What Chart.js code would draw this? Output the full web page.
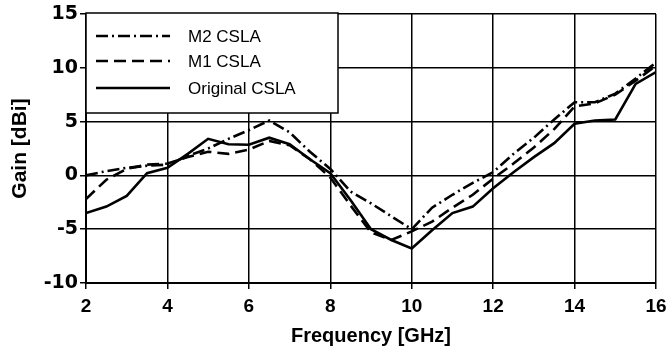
<!DOCTYPE html>
<html>
<head>
<meta charset="utf-8">
<script src="https://cdn.jsdelivr.net/npm/chart.js@4/dist/chart.umd.min.js"></script>
<style>
html,body{margin:0;padding:0;background:#fff;}
#c{display:block;}
</style>
</head>
<body>
<canvas id="c" width="668" height="353"></canvas>
<script>
// ---- data ----
const freqGHz = [2,2.5,3,3.5,4,4.5,5,5.5,6,6.5,7,7.5,8,8.5,9,9.5,10,10.5,11,11.5,12,12.5,13,13.5,14,14.5,15,15.5,16];
const gainM2 = [0,0.4,0.7,0.9,1.0,1.8,2.5,3.4,4.2,5.1,4.0,2.2,0.6,-1.5,-2.6,-3.8,-5.0,-3.0,-1.8,-0.7,0.3,2.0,3.5,5.2,6.8,6.8,7.6,9.0,10.5];
const gainM1 = [-2.2,-0.4,0.6,1.0,1.1,1.7,2.2,2.0,2.4,3.2,2.8,1.5,-0.2,-2.8,-5.3,-6.0,-5.2,-4.3,-3.0,-1.8,-0.3,1.1,2.6,4.3,6.4,6.7,7.5,8.8,10.2];
const gainOrig = [-3.5,-2.9,-1.9,0.2,0.7,2.0,3.4,2.9,2.85,3.5,2.9,1.5,0.2,-2.3,-5.0,-6.0,-6.8,-5.1,-3.5,-2.9,-1.2,0.3,1.7,3.0,4.8,5.1,5.2,8.5,9.6];
const seriesNames = ['M2 CSLA','M1 CSLA','Original CSLA'];
const xTitle = 'Frequency [GHz]';
const yTitle = 'Gain [dBi]';

const dashes = [[12,4,2,4],[12,6],[]];
const toPts = arr => arr.map((v,i)=>({x:freqGHz[i], y:v}));

const legendBox = {
  id:'legendBox',
  afterDraw(chart){
    const {ctx, chartArea} = chart;
    const x0 = chartArea.left, y0 = chartArea.top - 1;
    const w = 252, h = 100;
    ctx.save();
    ctx.fillStyle = '#fff';
    ctx.fillRect(x0, y0, w, h);
    ctx.strokeStyle = '#000';
    ctx.lineWidth = 1.5;
    ctx.strokeRect(x0, y0, w, h);
    const rows = [23, 48, 75];
    chart.data.datasets.forEach((ds, i) => {
      const y = y0 + rows[i];
      ctx.beginPath();
      ctx.setLineDash(ds.borderDash || []);
      ctx.lineWidth = 2.5;
      ctx.moveTo(x0 + 10, y);
      ctx.lineTo(x0 + 84, y);
      ctx.stroke();
      ctx.setLineDash([]);
      ctx.fillStyle = '#000';
      ctx.font = '17px "Liberation Sans", Arial, sans-serif';
      ctx.textBaseline = 'middle';
      ctx.textAlign = 'left';
      ctx.fillText(ds.label, x0 + 102, y + 1);
    });
    ctx.restore();
  }
};

new Chart(document.getElementById('c'), {
  type: 'line',
  data: {
    datasets: [gainM2, gainM1, gainOrig].map((arr, i) => ({
      label: seriesNames[i],
      data: toPts(arr),
      borderColor: '#000',
      borderWidth: 2.6,
      borderDash: dashes[i],
      pointRadius: 0,
      tension: 0,
      fill: false
    }))
  },
  options: {
    responsive: false,
    animation: false,
    devicePixelRatio: 1,
    layout: { padding: { left: 0, top: 14, right: 0, bottom: 0 } },
    plugins: { legend: { display: false }, tooltip: { enabled: false } },
    scales: {
      x: {
        type: 'linear', min: 2, max: 16,
        ticks: { stepSize: 2, color: '#000', padding: 6,
          font: { family: '"Liberation Sans", Arial, sans-serif', size: 19, weight: 'bold' } },
        grid: { color: '#000', lineWidth: 1.5, tickLength: 6 },
        border: { color: '#000', width: 2 },
        title: { display: true, text: xTitle, color: '#000', padding: { bottom: 5, top: 0 },
          font: { family: '"Liberation Sans", Arial, sans-serif', size: 20, weight: 'bold' } },
        afterFit(scale){ scale.height = 70; scale.paddingRight = 12; scale.paddingLeft = 0; }
      },
      y: {
        min: -10, max: 15,
        ticks: { stepSize: 5, color: '#000', padding: 2,
          font: { family: '"DejaVu Sans", sans-serif', size: 19, weight: 'bold' } },
        grid: { color: '#000', lineWidth: 1.5, tickLength: 6 },
        border: { color: '#000', width: 2 },
        title: { display: true, text: yTitle, color: '#000', padding: { top: 8, bottom: 0 },
          font: { family: '"Liberation Sans", Arial, sans-serif', size: 21, weight: 'bold' } },
        afterFit(scale){ scale.width = 86; }
      }
    }
  },
  plugins: [legendBox]
});
</script>
</body>
</html>
